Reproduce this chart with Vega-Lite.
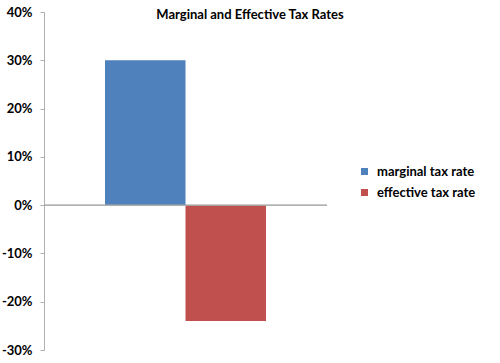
{
  "$schema": "https://vega.github.io/schema/vega-lite/v6.json",
  "width": 283,
  "height": 338,
  "autosize": {"type": "none"},
  "padding": {"left": 44, "top": 12, "right": 173, "bottom": 13},
  "background": "white",
  "title": {
    "text": "Marginal and Effective Tax Rates",
    "font": "Lato",
    "fontSize": 13,
    "fontWeight": "bold",
    "color": "black",
    "anchor": "middle",
    "dx": 64.5,
    "dy": 20
  },
  "config": {"view": {"stroke": null}, "font": "Lato"},
  "data": {
    "values": [
      {"series": "marginal tax rate", "rate": 0.30},
      {"series": "effective tax rate", "rate": -0.24}
    ]
  },
  "layer": [
    {
      "mark": {"type": "bar"},
      "encoding": {
        "x": {
          "field": "series",
          "type": "nominal",
          "sort": ["marginal tax rate", "effective tax rate"],
          "scale": {"paddingInner": 0, "paddingOuter": 0.758},
          "axis": null
        },
        "y": {
          "field": "rate",
          "type": "quantitative",
          "scale": {"domain": [-0.3, 0.4], "nice": false, "zero": false},
          "axis": {
            "values": [-0.3, -0.2, -0.1, 0, 0.1, 0.2, 0.3, 0.4],
            "labelExpr": "(datum.value < 0 ? '-' : '') + format(abs(datum.value), '.0%')",
            "grid": false,
            "title": null,
            "domainColor": "#b0b0b0",
            "tickColor": "#b0b0b0",
            "tickSize": 4,
            "labelFont": "Lato",
            "labelFontSize": 13,
            "labelFontWeight": "bold",
            "labelColor": "black",
            "labelPadding": 8
          }
        },
        "color": {
          "field": "series",
          "type": "nominal",
          "scale": {
            "domain": ["marginal tax rate", "effective tax rate"],
            "range": ["#4F81BD", "#C0504D"]
          },
          "legend": {
            "title": null,
            "orient": "none",
            "legendX": 314,
            "legendY": 153,
            "symbolType": "square",
            "symbolSize": 49,
            "symbolStrokeWidth": 0,
            "labelFont": "Lato",
            "labelFontSize": 13,
            "labelFontWeight": "bold",
            "labelColor": "black",
            "labelOffset": 6,
            "rowPadding": 7
          }
        }
      }
    },
    {
      "mark": {"type": "rule", "color": "#a6a6a6", "strokeWidth": 1},
      "encoding": {"y": {"datum": 0}}
    }
  ]
}
